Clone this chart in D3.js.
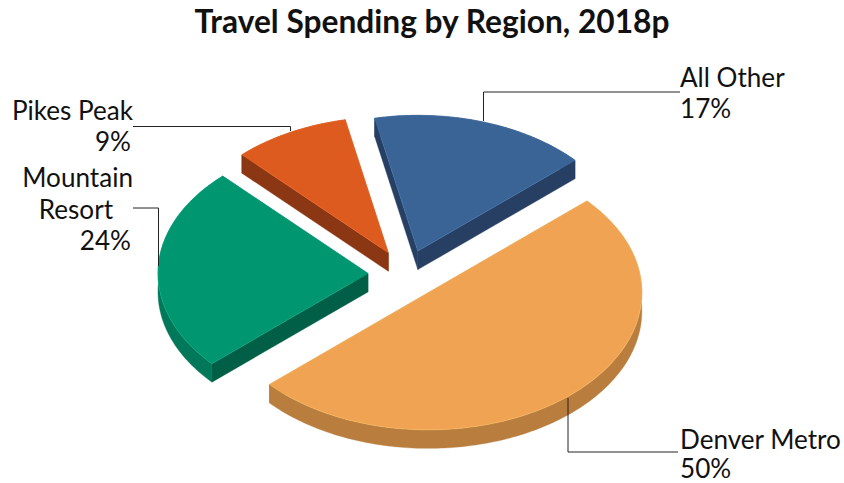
<!DOCTYPE html>
<html>
<head>
<meta charset="utf-8">
<style>
  html, body { margin: 0; padding: 0; background: #fff; }
  text { font-family: Lato, "Open Sans", sans-serif; fill: #111; }
</style>
<script src="https://cdn.jsdelivr.net/npm/d3@7"></script>
</head>
<body>
<div id="container"></div>
<script>
var regions = ["Denver Metro", "Mountain Resort", "Pikes Peak", "All Other"];
var shares = [50, 24.5, 8.9, 16.6];
var topColors = ["#f0a352", "#009670", "#de5b20", "#3a6496"];
var rimColors = ["#b97d3e", "#02785a", "#8b3713", "#263f63"];
var cutColors = ["#b97d3e", "#015f47", "#8b3713", "#263f63"];
var labelLines = [["Denver Metro", "50%"], ["Mountain", "Resort", "24%"], ["Pikes Peak", "9%"], ["All Other", "17%"]];

var width = 844, height = 483;

// pie geometry
var cx = 406, cy = 274.3;     // where the apexes meet before exploding
var rx = 211.5, squash = 0.642;
var depth = 18.5;
var explode = 38;
var startDeg = 48;
// the front slice sits a bit bigger and further left in the original's perspective
var sliceScale = [1.01, 0.993, 1, 1];
var sliceNudge = [[-3.2, 0.3], [0, 0], [0, 0], [0, 0]];

var svg = d3.select("#container").append("svg")
    .attr("width", width)
    .attr("height", height)
    .style("display", "block");

svg.append("text")
    .attr("x", 432)
    .attr("y", 33)
    .attr("text-anchor", "middle")
    .attr("font-weight", 700)
    .attr("font-size", 31.7)
    .text("Travel Spending by Region, 2018p");

var pie = d3.pie().sort(null)
    .startAngle(startDeg * Math.PI / 180)
    .endAngle((startDeg + 360) * Math.PI / 180);

var slices = pie(shares);

// angle is clockwise from north, y is squashed for the tilt
function pt(a, r) {
    return [r * Math.sin(a), -r * Math.cos(a) * squash];
}

function arcPoints(d) {
    var n = Math.ceil((d.endAngle - d.startAngle) * 60);
    return d3.range(n + 1).map(function(i) {
        return pt(d.startAngle + (d.endAngle - d.startAngle) * i / n, rx * sliceScale[d.index]);
    });
}

function down(p) { return [p[0], p[1] + depth]; }

var line = d3.line().curve(d3.curveLinear);

// back slices first so the big one stays on top
slices.slice().reverse().forEach(function(d) {
    var mid = (d.startAngle + d.endAngle) / 2;
    var off = pt(mid, explode);
    var nudge = sliceNudge[d.index];
    var g = svg.append("g")
        .attr("transform", "translate(" + (cx + off[0] + nudge[0]) + "," + (cy + off[1] + nudge[1]) + ")");

    var arc = arcPoints(d);
    var first = arc[0], last = arc[arc.length - 1];
    var apex = [0, 0];

    // cut faces
    [first, last].forEach(function(p) {
        g.append("path")
            .attr("d", line([apex, p, down(p), down(apex)]) + "Z")
            .attr("fill", cutColors[d.index])
            .attr("stroke", cutColors[d.index])
            .attr("stroke-width", 0.4);
    });

    // outer rim
    g.append("path")
        .attr("d", line(arc.concat(arc.map(down).reverse())) + "Z")
        .attr("fill", rimColors[d.index])
        .attr("stroke", rimColors[d.index])
        .attr("stroke-width", 0.4);

    // top face
    g.append("path")
        .attr("d", line([apex].concat(arc)) + "Z")
        .attr("fill", topColors[d.index])
        .attr("stroke", d3.color(topColors[d.index]).brighter(0.5))
        .attr("stroke-width", 0.5);
});

// leader lines, label layout by hand like the original
var leaders = [
    [[568, 398], [568, 452], [678, 452]],
    [[133, 208], [158.5, 208], [158.5, 266]],
    [[133, 126.5], [290.5, 126.5], [290.5, 131]],
    [[680, 92], [483.5, 92], [483.5, 121]]
];
var labelX = [680, 133, 133, 680];
var labelAnchor = ["start", "end", "end", "start"];
var labelBaselines = [[449, 478], [187, 219, 250], [120, 151], [87, 118]];
var labelShift = [[0, 0], [0, -20, -2], [0, -2], [0, 0]];

leaders.forEach(function(l) {
    svg.append("path")
        .attr("d", line(l))
        .attr("fill", "none")
        .attr("stroke", "#222")
        .attr("stroke-width", 1);
});

labelLines.forEach(function(lines, i) {
    lines.forEach(function(t, j) {
        svg.append("text")
            .attr("x", labelX[i] + labelShift[i][j])
            .attr("y", labelBaselines[i][j])
            .attr("text-anchor", labelAnchor[i])
            .attr("font-size", 26.1)
            .text(t);
    });
});
</script>
</body>
</html>
